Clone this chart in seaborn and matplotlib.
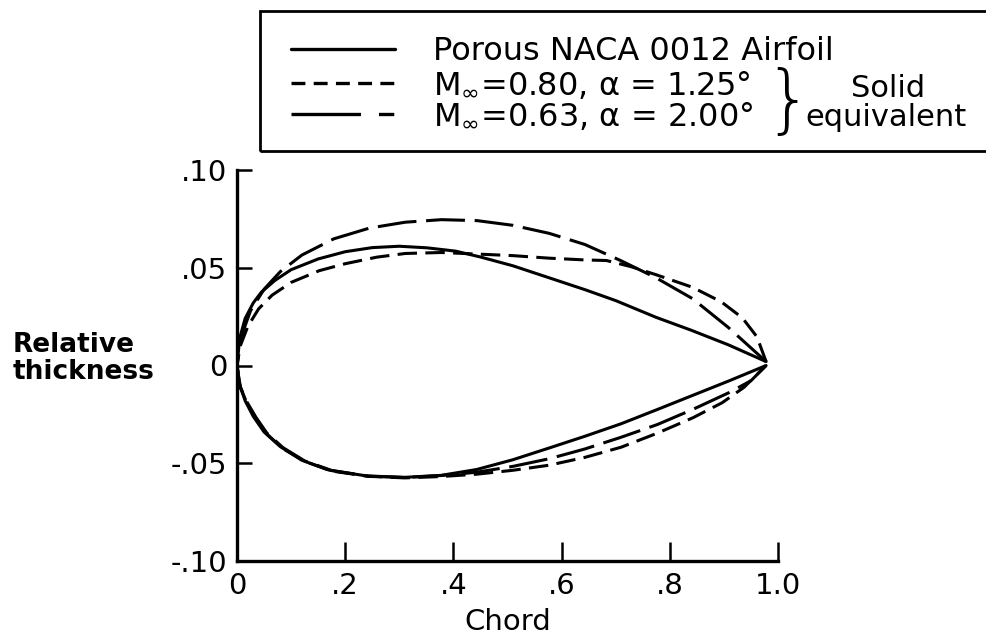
import matplotlib
matplotlib.use("Agg")
import matplotlib.pyplot as plt
import seaborn as sns
from matplotlib.lines import Line2D
from matplotlib.patches import Rectangle

# contours: upper surface from trailing edge to nose, then lower surface back to trailing edge
porous_x = [0.978, 0.908, 0.84, 0.775, 0.70, 0.643, 0.57, 0.51, 0.45, 0.404, 0.351, 0.30,
            0.25, 0.20, 0.15, 0.10, 0.07, 0.045, 0.03, 0.015, 0.005, 0.0,
            0.005, 0.015, 0.03, 0.05, 0.08, 0.12, 0.17, 0.24, 0.31, 0.377, 0.443, 0.51,
            0.577, 0.643, 0.71, 0.777, 0.843, 0.91, 0.978]
porous_y = [0.002, 0.0106, 0.018, 0.0246, 0.0332, 0.0388, 0.0455, 0.051, 0.0555, 0.0585, 0.0602, 0.061,
            0.0603, 0.0582, 0.0545, 0.049, 0.0435, 0.0375, 0.032, 0.024, 0.014, 0.0,
            -0.010, -0.018, -0.026, -0.034, -0.0415, -0.0485, -0.0535, -0.0565, -0.0572, -0.0562, -0.0532, -0.0482,
            -0.0422, -0.0362, -0.0298, -0.0225, -0.0152, -0.0078, 0.0]

m080_x = [0.978, 0.961, 0.934, 0.895, 0.842, 0.775, 0.729, 0.683, 0.643, 0.577, 0.51, 0.444,
          0.378, 0.311, 0.258, 0.199, 0.152, 0.10, 0.065, 0.04, 0.02, 0.006, 0.0,
          0.006, 0.018, 0.035, 0.055, 0.085, 0.125, 0.175, 0.243, 0.31, 0.377, 0.443, 0.51,
          0.577, 0.643, 0.71, 0.777, 0.843, 0.897, 0.937, 0.978]
m080_y = [0.002, 0.0147, 0.0244, 0.0326, 0.040, 0.0464, 0.0505, 0.0537, 0.054, 0.0549, 0.0562, 0.057,
          0.0578, 0.0573, 0.0554, 0.052, 0.0485, 0.0425, 0.036, 0.029, 0.020, 0.010, 0.0,
          -0.011, -0.019, -0.027, -0.035, -0.0425, -0.049, -0.054, -0.0567, -0.0575, -0.0568, -0.0556, -0.0536,
          -0.051, -0.047, -0.0418, -0.0346, -0.0267, -0.019, -0.0112, 0.0]

m063_x = [0.978, 0.908, 0.842, 0.775, 0.709, 0.643, 0.577, 0.51, 0.444, 0.378, 0.311, 0.245,
          0.179, 0.12, 0.08, 0.05, 0.025, 0.008, 0.0,
          0.006, 0.018, 0.035, 0.055, 0.085, 0.125, 0.175, 0.243, 0.31, 0.377, 0.443, 0.51,
          0.577, 0.643, 0.71, 0.777, 0.843, 0.91, 0.95, 0.978]
m063_y = [0.002, 0.0195, 0.0342, 0.0448, 0.0537, 0.0619, 0.0676, 0.0717, 0.0741, 0.0746, 0.0733, 0.0703,
          0.0648, 0.0565, 0.048, 0.039, 0.028, 0.015, 0.0,
          -0.011, -0.0185, -0.0265, -0.0345, -0.042, -0.0488, -0.0537, -0.0566, -0.0573, -0.0563, -0.0546, -0.0516,
          -0.0477, -0.0427, -0.0367, -0.0302, -0.0224, -0.0138, -0.0078, 0.0]

xtick_vals = [0, 0.2, 0.4, 0.6, 0.8, 1.0]
xtick_labels = ["0", ".2", ".4", ".6", ".8", "1.0"]
ytick_vals = [-0.10, -0.05, 0, 0.05, 0.10]
ytick_labels = ["-.10", "-.05", "0", ".05", ".10"]
legend_labels = ["Porous NACA 0012 Airfoil",
                 r"M$_\infty$=0.80, α = 1.25°",
                 r"M$_\infty$=0.63, α = 2.00°"]

sns.set_theme(style="ticks")
plt.rcParams["font.family"] = ["DejaVu Sans"]
plt.rcParams["mathtext.fontset"] = "dejavusans"
plt.rcParams["lines.scale_dashes"] = False

W, H = 986, 637
fx = lambda px: px / W
fy = lambda py: 1 - py / H

fig = plt.figure(figsize=(9.86, 6.37), dpi=100)
ax = fig.add_axes([fx(237), fy(561), 541 / W, 391 / H])

short_dash = (0, (14, 6))
long_dash = (0, (28, 7))
sns.lineplot(x=porous_x, y=porous_y, sort=False, estimator=None, color="black", linewidth=2.2, ax=ax)
sns.lineplot(x=m080_x, y=m080_y, sort=False, estimator=None, color="black", linewidth=2.2,
             linestyle=short_dash, ax=ax)
sns.lineplot(x=m063_x, y=m063_y, sort=False, estimator=None, color="black", linewidth=2.2,
             linestyle=long_dash, ax=ax)

ax.set_xlim(0, 1.0)
ax.set_ylim(-0.10, 0.10)
ax.set_xticks(xtick_vals, xtick_labels, fontsize=21)
ax.set_yticks(ytick_vals, ytick_labels, fontsize=21)
ax.tick_params(axis="x", direction="in", length=14, width=1.8, pad=8, colors="black")
ax.tick_params(axis="y", direction="in", length=11, width=1.8, pad=7, colors="black")
sns.despine(ax=ax)
for s in ["left", "bottom"]:
    ax.spines[s].set_linewidth(2.4)
    ax.spines[s].set_color("black")

ax.set_xlabel("Chord", fontsize=21, labelpad=6, color="black")
ax.set_ylabel("Relative\nthickness", rotation=0, ha="left", va="center", fontsize=19,
              fontweight="bold", linespacing=1.05, color="black")
ax.yaxis.set_label_coords(-0.414, 0.519)

# legend box (runs off the right edge like the scan)
fig.patches.append(Rectangle((fx(260), fy(151)), fx(1010) - fx(260), fy(11) - fy(151),
                             transform=fig.transFigure, fill=False, lw=2, ec="black", clip_on=False))
handle_styles = ["-", (0, (10, 6)), (0, (50, 13, 11, 30))]
row_mid = [49, 83, 114]
row_base = [60, 94, 125]
for style, mid, base, lab in zip(handle_styles, row_mid, row_base, legend_labels):
    fig.add_artist(Line2D([fx(291), fx(395)], [fy(mid), fy(mid)], transform=fig.transFigure,
                          color="black", lw=2.4, linestyle=style))
    fig.text(fx(433), fy(base), lab, fontsize=23, ha="left", va="baseline", color="black")

fig.text(fx(788), fy(103), "}", fontsize=54, fontweight="light", ha="center", va="center", color="black")
fig.text(fx(888), fy(97), "Solid", fontsize=22, ha="center", va="baseline", color="black")
fig.text(fx(886), fy(126), "equivalent", fontsize=22, ha="center", va="baseline", color="black")

plt.savefig("out.png", dpi=100)
